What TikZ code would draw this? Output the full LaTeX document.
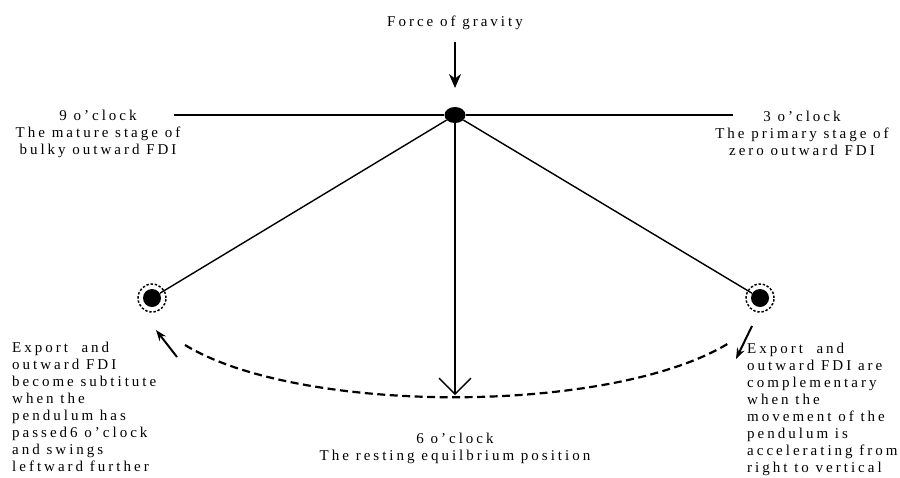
\documentclass[tikz,border=0pt]{standalone}
\usepackage{fontspec}
\setmainfont{Liberation Serif}[LetterSpace=20]
\usepackage{xcolor}
\usepackage{tikz}
\usetikzlibrary{arrows.meta,positioning,calc,shapes.geometric}

\begin{document}
\begin{tikzpicture}[x=1pt, y=1pt,
  txt/.style={font=\fontsize{15}{17}\selectfont, inner sep=0pt, align=center, anchor=base},
  note/.style={font=\fontsize{15}{17}\selectfont, inner sep=0pt, align=left, anchor=base west},
  bob/.style={circle, fill=black, minimum size=18pt, inner sep=0pt},
  halo/.style={circle, draw=black, line width=1.5pt, dash pattern=on 2.4pt off 1.8pt, minimum size=28pt, inner sep=0pt},
  line/.style={draw=black, line width=1.4pt},
  swing/.style={draw=black, line width=2pt, -{Stealth[length=11pt,width=8pt]}}
]
  \useasboundingbox (0,0) rectangle (900,-477);

  % Pivot and bobs
  \node [ellipse, fill=black, minimum width=21pt, minimum height=16pt, inner sep=0pt] (pivot) at (455,-115) {};
  \node [halo] (lefthalo) at (152,-298) {};
  \node [bob] (leftbob) at (152,-298) {};
  \node [halo] (righthalo) at (760,-298) {};
  \node [bob] (rightbob) at (760,-298) {};

  % Ends of the clock line and of the swing
  \coordinate (nine) at (174,-115);
  \coordinate (three) at (733,-115);
  \coordinate (rest) at (455,-395);
  \coordinate (arcleft) at (185,-345);
  \coordinate (arcright) at (729,-343);

  % Labels (anchored on the baseline of the last line)
  \node [txt] (gravity) at (455,-26) {Force of gravity};
  \node [txt] (ninelabel) at (98,-154) {9 o'clock\\The mature stage of\\bulky outward FDI};
  \node [txt] (threelabel) at (802,-155) {3 o'clock\\The primary stage of\\zero outward FDI};
  \node [txt] (sixlabel) at (455,-460) {6 o'clock\\The resting equilbrium position};
  \node [note] (leftnote) at (12,-471) {Export\ \ and\\outward FDI\\become subtitute\\when the\\pendulum has\\passed6 o'clock\\and swings\\leftward further};
  \node [note] (rightnote) at (747,-472) {Export\ \ and\\outward FDI are\\complementary\\when the\\movement of the\\pendulum is\\accelerating from\\right to vertical};

  % Force of gravity
  \coordinate (gravtop) at (455,-42);
  \coordinate (gravtip) at (455,-88);
  \draw [draw=black, line width=2.4pt, -{Stealth[length=14pt,width=12pt]}] (gravtop) -- (gravtip);

  % Clock line and strings
  \draw [line] (nine) -- (pivot);
  \draw [line] (pivot) -- (three);
  \draw [line] (pivot) -- (leftbob);
  \draw [line] (pivot) -- (rightbob);
  \draw [line, -{Straight Barb[length=16pt,width=32pt,line width=1.4pt]}] (pivot) -- (rest);

  % Swing path
  \draw [draw=black, line width=2.2pt, dash pattern=on 8pt off 4.5pt] (arcleft) .. controls (300,-415) and (612,-415) .. (arcright);
  \coordinate (ltail) at (177,-357);
  \coordinate (ltip) at (156,-330);
  \coordinate (rtail) at (752,-326);
  \coordinate (rtip) at (736,-359);
  \draw [swing] (ltail) -- (ltip);
  \draw [swing] (rtail) -- (rtip);

\end{tikzpicture}
\end{document}
